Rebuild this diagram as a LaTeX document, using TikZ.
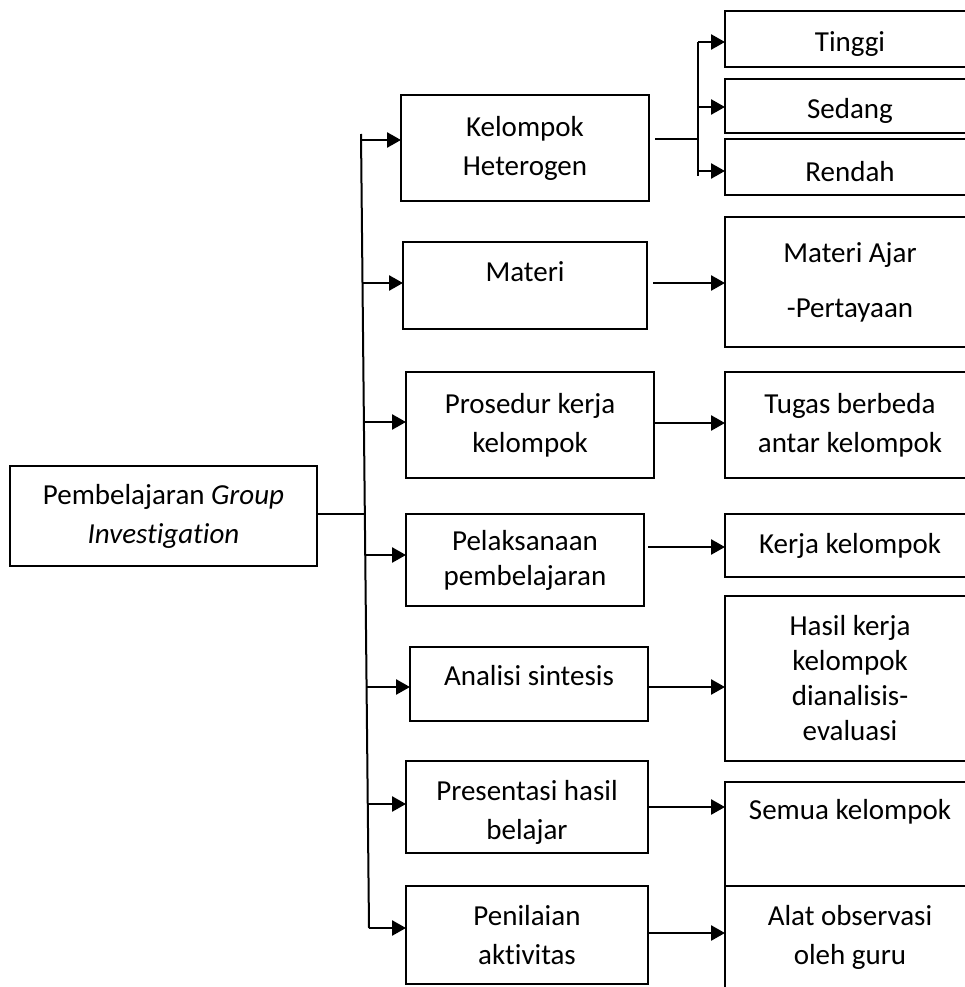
\documentclass[tikz,border=0pt]{standalone}
\usepackage{fontspec}
\setmainfont{Carlito}[Ligatures=NoCommon]
\usetikzlibrary{arrows.meta}
\begin{document}
\begin{tikzpicture}[x=1pt,y=-1pt,
 box/.style={draw,line width=1.8pt,inner sep=0pt,outer sep=0pt,align=center,font=\fontsize{29}{39}\selectfont},
 rbox/.style={box,minimum width=250pt},
 txt/.style={align=center,inner sep=0pt,font=\fontsize{29}{39}\selectfont},
 arr/.style={line width=2.6pt,-{Triangle[length=14pt,width=15pt]}},
 thinl/.style={line width=1.6pt},
 trunkl/.style={line width=2pt}]
\useasboundingbox (0,0) rectangle (964,987);
% root
\node[box,minimum width=307pt,minimum height=100pt] (root) at (163.5,516) {Pembelajaran \textit{Group}\\\textit{Investigation}};
% middle column
\node[box,minimum width=248pt,minimum height=106pt] (kel) at (525,148) {Kelompok\\Heterogen};
\node[box,minimum width=244pt,minimum height=87pt] (mat) at (525,285.5) {};
\node[txt] (matT) at (525,272) {Materi};
\node[box,minimum width=248pt,minimum height=106pt] (pro) at (530,425) {Prosedur kerja\\kelompok};
\node[box,minimum width=238pt,minimum height=92pt,font=\fontsize{29}{35}\selectfont] (pel) at (525,560) {Pelaksanaan\\pembelajaran};
\node[box,minimum width=238pt,minimum height=74pt] (ana) at (529,684) {};
\node[txt] (anaT) at (529,676) {Analisi sintesis};
\node[box,minimum width=242pt,minimum height=92pt] (pre) at (527,807) {};
\node[txt] (preT) at (527,812) {Presentasi hasil\\belajar};
\node[box,minimum width=242pt,minimum height=98pt] (pen) at (527,935) {Penilaian\\aktivitas};
% right column
\node[rbox,minimum height=56pt] (tin) at (850,39) {};
\node[txt] (tinT) at (850,44) {Tinggi};
\node[rbox,minimum height=54pt] (sed) at (850,106) {};
\node[txt] (sedT) at (850,111) {Sedang};
\node[rbox,minimum height=56pt] (ren) at (850,167) {};
\node[txt] (renT) at (850,171.5) {Rendah};
\node[rbox,minimum height=130pt] (maj) at (850,282) {Materi Ajar\\[16pt]-Pertayaan};
\node[rbox,minimum height=106pt] (tug) at (850,425) {Tugas berbeda\\antar kelompok};
\node[rbox,minimum height=63pt] (ker) at (850,545.5) {Kerja kelompok};
\node[rbox,minimum height=165pt,font=\fontsize{29}{35}\selectfont] (has) at (850,678.5) {Hasil kerja\\kelompok\\dianalisis-\\evaluasi};
\node[rbox,minimum height=104pt] (sem) at (850,834) {};
\node[txt] (semT) at (850,812) {Semua kelompok};
\node[rbox,minimum height=114pt] (ala) at (850,943) {};
\node[txt] (alaT) at (850,937) {Alat observasi\\oleh guru};
% trunk
\coordinate (ttop) at (361,134);
\coordinate (tbot) at (369,928);
\coordinate (rj) at (365,514);
\draw[trunkl] (ttop) -- (tbot);
\draw[thinl] (root.east |- rj) -- (rj);
% trunk to middle
\coordinate (t1) at (361.1,140);
\coordinate (t2) at (362.5,283);
\coordinate (t3) at (363.9,422);
\coordinate (t4) at (365.2,555);
\coordinate (t5) at (366.6,687);
\coordinate (t6) at (367.8,804);
\coordinate (t7) at (369,928);
\draw[arr] (t1) -- (t1 -| kel.west);
\draw[arr] (t2) -- (t2 -| mat.west);
\draw[arr] (t3) -- (t3 -| pro.west);
\draw[arr] (t4) -- (t4 -| pel.west);
\draw[arr] (t5) -- (t5 -| ana.west);
\draw[arr] (t6) -- (t6 -| pre.west);
\draw[arr] (t7) -- (t7 -| pen.west);
% Kelompok branch
\coordinate (bj) at (698,139);
\coordinate (bt) at (698,42);
\coordinate (bm) at (698,107);
\coordinate (bb) at (698,171);
\coordinate (bbe) at (698,176);
\draw[thinl,shorten <=6pt] (bj -| kel.east) -- (bj);
\draw[trunkl] (bt) -- (bbe);
\draw[arr] (bt) -- (bt -| tin.west);
\draw[arr] (bm) -- (bm -| sed.west);
\draw[arr] (bb) -- (bb -| ren.west);
% middle to right
\coordinate (o2) at (0,283);
\coordinate (o3) at (0,423);
\coordinate (o4) at (0,547);
\coordinate (o5) at (0,687);
\coordinate (o6) at (0,807);
\coordinate (o7) at (0,933);
\draw[arr,shorten <=6pt] (o2 -| mat.east) -- (o2 -| maj.west);
\draw[arr] (o3 -| pro.east) -- (o3 -| tug.west);
\draw[arr,shorten <=4pt] (o4 -| pel.east) -- (o4 -| ker.west);
\draw[arr] (o5 -| ana.east) -- (o5 -| has.west);
\draw[arr] (o6 -| pre.east) -- (o6 -| sem.west);
\draw[arr] (o7 -| pen.east) -- (o7 -| ala.west);
\end{tikzpicture}
\end{document}
